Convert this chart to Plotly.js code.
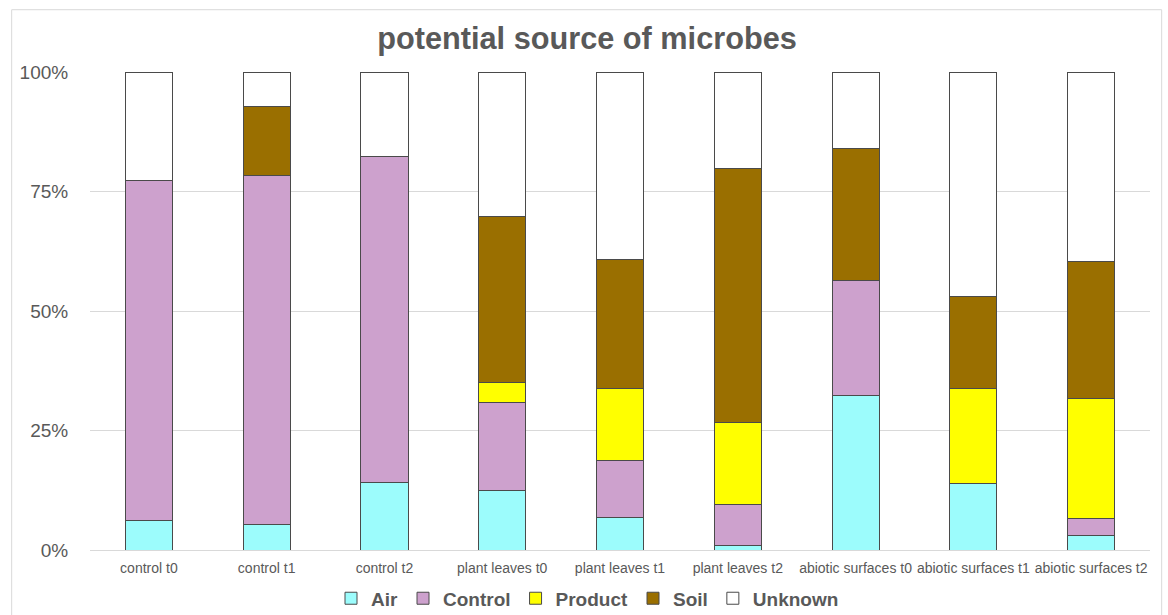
<!DOCTYPE html>
<html>
<head>
<meta charset="utf-8">
<script src="https://cdn.plot.ly/plotly-3.0.1.min.js"></script>
<style>
  html, body { margin: 0; padding: 0; background: #ffffff; }
  #chart { width: 1168px; height: 615px; }
</style>
</head>
<body>
<div id="chart"></div>
<script>
// Share of each potential microbe source per sample (percent)
const categories = [
  'control t0', 'control t1', 'control t2',
  'plant leaves t0', 'plant leaves t1', 'plant leaves t2',
  'abiotic surfaces t0', 'abiotic surfaces t1', 'abiotic surfaces t2'
];
const air      = [6.2, 5.3, 14.2, 12.4, 6.7, 1.0, 32.3, 14.0, 3.0];
const control  = [71.1, 73.1, 68.1, 18.5, 12.0, 8.5, 24.1, null, 3.5];
const product  = [null, null, null, 4.2, 15.0, 17.1, null, 19.7, 25.1];
const soil     = [null, 14.4, null, 34.7, 27.0, 53.3, 27.7, 19.4, 28.7];
const unknown  = [22.7, 7.2, 17.7, 30.2, 39.3, 20.1, 15.9, 46.9, 39.7];
const yTicks      = [0, 25, 50, 75, 100];
const yTickLabels = ['0%', '25%', '50%', '75%', '100%'];

const seriesNames  = ['Air', 'Control', 'Product', 'Soil', 'Unknown'];
const seriesValues = [air, control, product, soil, unknown];
const seriesColors = ['#9cfcfc', '#cda1cd', '#ffff00', '#9a6f00', '#ffffff'];

const FONT = '"Liberation Sans", Arial, sans-serif';
const GREY_TEXT = '#595959';

const traces = seriesNames.map((name, i) => ({
  type: 'bar',
  name: name,
  x: categories,
  y: seriesValues[i],
  marker: { color: seriesColors[i], line: { color: '#4a4a4a', width: 1 } },
  hoverinfo: 'skip'
}));

const layout = {
  width: 1168,
  height: 615,
  margin: { l: 90, r: 18, t: 72, b: 65 },
  paper_bgcolor: '#ffffff',
  plot_bgcolor: '#ffffff',
  barmode: 'stack',
  bargap: 0.6,
  font: { family: FONT, color: GREY_TEXT },
  title: {
    text: '<b>potential source of microbes</b>',
    font: { family: FONT, size: 30.7, color: GREY_TEXT },
    xref: 'container', x: 0.5026,
    yref: 'container', y: 0.938, yanchor: 'middle'
  },
  xaxis: {
    type: 'category',
    tickfont: { family: FONT, size: 14, color: GREY_TEXT },
    ticks: 'outside', ticklen: 5, tickcolor: 'rgba(0,0,0,0)',
    showline: false, showgrid: false, zeroline: false
  },
  yaxis: {
    range: [0, 100],
    tickmode: 'array',
    tickvals: yTicks,
    ticktext: yTickLabels,
    tickfont: { family: FONT, size: 19, color: GREY_TEXT },
    ticks: 'outside', ticklen: 17, tickcolor: 'rgba(0,0,0,0)',
    showgrid: true, gridcolor: '#d9d9d9', gridwidth: 1,
    zeroline: true, zerolinecolor: '#d9d9d9', zerolinewidth: 1,
    showline: false
  },
  legend: {
    orientation: 'h',
    xref: 'container', x: 0.503, xanchor: 'center',
    yref: 'container', y: 0.027, yanchor: 'middle',
    font: { family: FONT, size: 19, color: GREY_TEXT, weight: 'bold' },
    traceorder: 'normal',
    itemclick: false, itemdoubleclick: false
  },
  shapes: [
    {
      type: 'rect', xref: 'paper', yref: 'paper', layer: 'below',
      x0: -0.0739, x1: 1.011, y0: -0.2, y1: 1.1303,
      line: { color: '#d9d9d9', width: 1 }, fillcolor: 'rgba(0,0,0,0)'
    }
  ],
  hovermode: false
};

Plotly.newPlot('chart', traces, layout, { displayModeBar: false, staticPlot: true });
</script>
</body>
</html>
